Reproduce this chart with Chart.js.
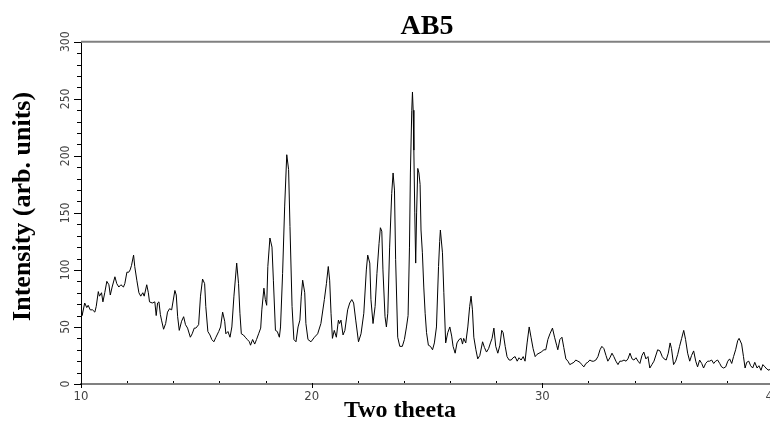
<!DOCTYPE html>
<html>
<head>
<meta charset="utf-8">
<title>AB5</title>
<script src="https://cdn.jsdelivr.net/npm/chart.js@4.4.1/dist/chart.umd.min.js"></script>
<style>
  html, body { margin: 0; padding: 0; overflow: hidden; background: #fff; }
  canvas { display: block; }
</style>
</head>
<body>
<canvas id="xrdChart" width="800" height="421"></canvas>
<script>
// two theta positions (degrees)
const theta = [
  10.00, 10.05, 10.16, 10.25, 10.31, 10.40, 10.50, 10.60, 10.66, 10.75, 10.80, 10.89, 10.95,
  11.03, 11.12, 11.21, 11.27, 11.35, 11.47, 11.55, 11.64, 11.73, 11.84, 11.90, 11.99,
  12.07, 12.13, 12.19, 12.28, 12.33, 12.42, 12.51, 12.59, 12.68, 12.74, 12.85, 12.92, 12.97,
  13.09, 13.20, 13.26, 13.32, 13.38, 13.44, 13.49, 13.58, 13.67, 13.75, 13.84, 13.93,
  14.07, 14.13, 14.19, 14.26, 14.36, 14.45, 14.53, 14.62, 14.74, 14.82, 14.91, 14.98,
  15.10, 15.18, 15.27, 15.36, 15.41, 15.50, 15.59, 15.67, 15.76, 15.85, 15.97,
  16.05, 16.14, 16.23, 16.28, 16.37, 16.46, 16.54, 16.63, 16.75, 16.83, 16.89, 16.95,
  17.04, 17.12, 17.21, 17.30, 17.35, 17.44, 17.53, 17.61, 17.70, 17.79, 17.84, 17.93, 17.99,
  18.05, 18.10, 18.19, 18.28, 18.34, 18.43, 18.51, 18.60, 18.65, 18.74, 18.83, 18.92,
  19.00, 19.06, 19.15, 19.23, 19.32, 19.41, 19.49, 19.55, 19.61, 19.70, 19.75, 19.84, 19.97,
  20.12, 20.26, 20.40, 20.55, 20.64, 20.72, 20.78, 20.84, 20.90, 20.98,
  21.07, 21.16, 21.21, 21.27, 21.36, 21.44, 21.56, 21.65, 21.74, 21.82, 21.91,
  22.03, 22.14, 22.26, 22.37, 22.43, 22.52, 22.57, 22.66, 22.75, 22.83, 22.92, 22.98,
  23.04, 23.09, 23.18, 23.24, 23.30, 23.38, 23.47, 23.53, 23.59, 23.64, 23.73, 23.82, 23.93,
  24.02, 24.11, 24.18, 24.24, 24.28, 24.34, 24.37, 24.40, 24.43, 24.47, 24.51, 24.55, 24.60,
  24.65, 24.70, 24.74, 24.80, 24.86, 24.92, 24.98,
  25.06, 25.15, 25.24, 25.32, 25.41, 25.50, 25.55, 25.58, 25.67, 25.73, 25.81, 25.90, 25.99,
  26.07, 26.13, 26.22, 26.30, 26.39, 26.48, 26.54, 26.59, 26.68, 26.77, 26.85, 26.91, 26.97,
  27.03, 27.12, 27.20, 27.29, 27.41, 27.49, 27.58, 27.67, 27.75, 27.82, 27.90, 27.98,
  28.07, 28.16, 28.24, 28.30, 28.39, 28.47, 28.56, 28.65, 28.73, 28.82, 28.91, 28.99,
  29.08, 29.17, 29.25, 29.34, 29.43, 29.51, 29.60, 29.69, 29.77, 29.95,
  30.07, 30.15, 30.24, 30.33, 30.44, 30.53, 30.62, 30.67, 30.76, 30.85, 30.93,
  31.02, 31.11, 31.19, 31.28, 31.37, 31.45, 31.54, 31.63, 31.71, 31.80, 31.89, 31.97,
  32.06, 32.15, 32.23, 32.32, 32.41, 32.50, 32.58, 32.67, 32.76, 32.84, 32.93,
  33.02, 33.10, 33.19, 33.28, 33.36, 33.45, 33.54, 33.63, 33.71, 33.80, 33.89, 33.97,
  34.06, 34.15, 34.23, 34.32, 34.40, 34.49, 34.58, 34.66, 34.75, 34.84,
  35.00, 35.10, 35.20, 35.28, 35.37, 35.46, 35.54, 35.60, 35.69, 35.78, 35.87, 35.95,
  36.04, 36.13, 36.21, 36.30, 36.39, 36.47, 36.56, 36.65, 36.73, 36.82, 36.91, 36.99,
  37.08, 37.17, 37.25, 37.34, 37.43, 37.51, 37.60, 37.69, 37.77, 37.86, 37.95,
  38.04, 38.12, 38.21, 38.29, 38.38, 38.47, 38.53, 38.64, 38.72, 38.79, 38.86, 38.95,
  39.03, 39.12, 39.21, 39.31, 39.39, 39.48, 39.56, 39.65, 39.74, 39.83, 39.91, 40.00
];

// intensity (arb. units) at each position
const intensity = [
  69, 60, 71, 67, 69, 65, 65, 63, 68, 81, 77, 80, 72,
  80, 90, 87, 78, 85, 94, 88, 85, 87, 85, 88, 98,
  98, 100, 104, 113, 103, 91, 80, 77, 80, 77, 87, 80, 72,
  71, 72, 60, 71, 72, 61, 56, 48, 53, 63, 66, 65,
  82, 78, 59, 47, 55, 59, 52, 49, 41, 44, 49, 49,
  52, 77, 92, 88, 68, 46, 43, 39, 37, 41, 46,
  50, 63, 55, 44, 46, 41, 50, 77, 106, 88, 62, 44,
  43, 41, 39, 37, 34, 39, 35, 39, 44, 49, 65, 84, 74,
  69, 103, 128, 120, 91, 47, 46, 41, 50, 97, 156, 201,
  188, 138, 68, 39, 37, 50, 56, 77, 91, 80, 53, 39, 37,
  41, 44, 53, 74, 88, 103, 91, 62, 40, 47,
  41, 56, 53, 56, 43, 47, 65, 71, 74, 71, 56,
  37, 44, 62, 100, 113, 106, 74, 53, 68, 97, 123, 137,
  134, 100, 59, 50, 62, 120, 167, 185, 170, 109, 41, 33, 33,
  39, 50, 60, 120, 185, 240, 256, 240, 205, 150, 106, 150, 189,
  185, 175, 135, 115, 85, 62, 45,
  34, 33, 30, 36, 50, 103, 125, 135, 115, 80, 36, 45, 50,
  42, 33, 27, 36, 39, 40, 35, 40, 36, 50, 68, 77, 65,
  41, 30, 22, 25, 37, 32, 28, 31, 36, 40, 49, 33,
  27, 34, 47, 45, 33, 24, 21, 21, 23, 24, 20, 23,
  21, 24, 20, 36, 50, 41, 31, 24, 26, 28,
  30, 30, 39, 44, 49, 41, 34, 30, 39, 41, 32,
  22, 20, 17, 18, 19, 21, 20, 19, 17, 15, 18, 19,
  21, 20, 20, 21, 24, 30, 33, 31, 25, 20, 23,
  27, 24, 20, 17, 20, 20, 21, 20, 22, 27, 22, 21,
  23, 20, 18, 25, 28, 22, 24, 14, 17, 20,
  30, 29, 24, 22, 21, 27, 36, 31, 17, 20, 26, 33,
  40, 47, 39, 27, 20, 25, 29, 20, 15, 21, 18, 14,
  18, 20, 20, 21, 18, 20, 21, 18, 15, 14, 15,
  20, 22, 18, 24, 30, 38, 40, 35, 24, 14, 19, 20,
  16, 14, 19, 14, 16, 12, 17, 15, 13, 12, 14, 12
];

const xLabels = [10, 20, 30, 40];
const yLabels = [0, 50, 100, 150, 200, 250, 300];

const tickFont = "'Liberation Sans Narrow', 'DejaVu Sans Condensed', 'Liberation Sans', sans-serif";
const titleFont = "'Liberation Serif', 'Times New Roman', serif";

// small tick marks + grey top frame, drawn from the scales
const axisDecor = {
  id: 'axisDecor',
  afterDraw(chart) {
    const { ctx, chartArea: a, scales: { x, y } } = chart;
    ctx.save();
    ctx.strokeStyle = '#808080';
    ctx.lineWidth = 2;
    ctx.beginPath();
    ctx.moveTo(a.left, a.top);
    ctx.lineTo(chart.width, a.top);
    ctx.stroke();

    ctx.strokeStyle = '#000';
    ctx.lineWidth = 1;
    ctx.beginPath();
    for (let v = y.min; v <= y.max; v += 10) {
      const py = Math.round(y.getPixelForValue(v)) + 0.5;
      const len = yLabels.includes(v) ? 7 : 4;
      ctx.moveTo(a.left - len, py);
      ctx.lineTo(a.left, py);
    }
    for (let t = x.min; t <= x.max; t += 2) {
      const px = Math.round(x.getPixelForValue(t)) + 0.5;
      if (xLabels.includes(t)) {
        ctx.moveTo(px, a.bottom - 1);
        ctx.lineTo(px, a.bottom + 4);
      } else {
        ctx.moveTo(px, a.bottom - 1);
        ctx.lineTo(px, a.bottom - 3);
      }
    }
    ctx.stroke();
    ctx.restore();
  }
};

const ctx = document.getElementById('xrdChart').getContext('2d');

new Chart(ctx, {
  type: 'line',
  data: {
    datasets: [{
      data: theta.map((t, i) => ({ x: t, y: intensity[i] })),
      borderColor: '#000',
      borderWidth: 1,
      pointRadius: 0,
      tension: 0,
      fill: false
    }]
  },
  options: {
    responsive: false,
    animation: false,
    devicePixelRatio: 1,
    layout: { padding: 0 },
    plugins: {
      legend: { display: false },
      tooltip: { enabled: false },
      title: {
        display: true,
        text: 'AB5',
        fullSize: false,
        color: '#000',
        font: { family: titleFont, size: 28, weight: 'bold', lineHeight: 1.1 },
        padding: { top: 11, bottom: 0 }
      },
      subtitle: {
        display: true,
        position: 'bottom',
        text: 'Two theeta',
        color: '#000',
        font: { family: titleFont, size: 24, weight: 'bold', lineHeight: 0.6 },
        padding: { top: 0, bottom: 3 }
      }
    },
    scales: {
      x: {
        type: 'linear',
        min: 10,
        max: 40,
        afterFit: (scale) => {
          scale.height = 19.6;
          scale.paddingRight = 27; // plot runs a little past the window edge
        },
        afterBuildTicks: (scale) => { scale.ticks = xLabels.map(v => ({ value: v })); },
        grid: { display: true, drawOnChartArea: false, drawTicks: false },
        border: { display: true, color: '#808080', width: 2 },
        ticks: {
          padding: 5,
          maxRotation: 0,
          autoSkip: false,
          color: '#444',
          font: { family: tickFont, size: 13 }
        }
      },
      y: {
        min: 0,
        max: 300,
        afterFit: (scale) => { scale.width = 81; },
        afterBuildTicks: (scale) => { scale.ticks = yLabels.map(v => ({ value: v })); },
        grid: { display: true, drawOnChartArea: false, drawTicks: false },
        border: { display: true, color: '#000', width: 1 },
        ticks: {
          padding: 5,
          minRotation: 90,
          maxRotation: 90,
          crossAlign: 'center',
          autoSkip: false,
          color: '#444',
          font: { family: tickFont, size: 12 }
        },
        title: {
          display: true,
          text: '\u00a0\u00a0Intensity (arb. units)',
          color: '#000',
          font: { family: titleFont, size: 26, weight: 'bold', lineHeight: 1 },
          padding: { top: 10, bottom: 0 }
        }
      }
    }
  },
  plugins: [axisDecor]
});
</script>
</body>
</html>
